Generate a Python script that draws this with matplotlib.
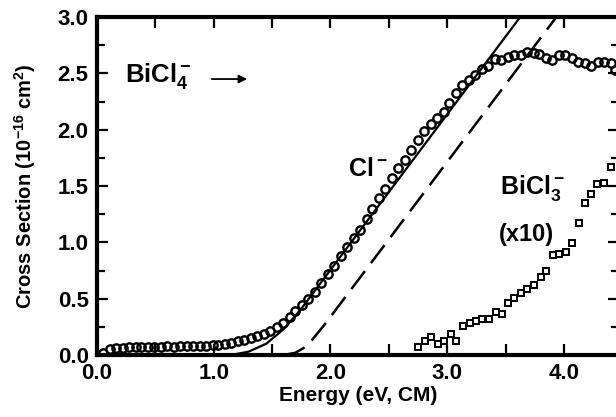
import matplotlib.pyplot as plt
from matplotlib.ticker import MultipleLocator

plt.rcParams['font.family'] = ['Liberation Sans', 'DejaVu Sans']
plt.rcParams['font.weight'] = 'bold'
plt.rcParams['mathtext.fontset'] = 'custom'
plt.rcParams['mathtext.rm'] = 'Liberation Sans:bold'
plt.rcParams['mathtext.it'] = 'Liberation Sans:bold'
plt.rcParams['mathtext.bf'] = 'Liberation Sans:bold'

# BiCl4- -> Cl- cross section (open circles)
cl_e = [0.05, 0.11, 0.16, 0.22, 0.27, 0.33, 0.38, 0.44, 0.49, 0.55, 0.60, 0.66,
        0.71, 0.77, 0.82, 0.88, 0.93, 0.99, 1.04, 1.10, 1.15, 1.21, 1.26, 1.32,
        1.37, 1.43, 1.48, 1.54, 1.59, 1.65, 1.70, 1.76, 1.81, 1.87, 1.92, 1.98,
        2.03, 2.09, 2.14, 2.20, 2.25, 2.31, 2.36, 2.42, 2.47, 2.53, 2.58, 2.64,
        2.69, 2.75, 2.80, 2.86, 2.91, 2.97, 3.02, 3.08, 3.13, 3.19, 3.24, 3.30,
        3.35, 3.41, 3.46, 3.52, 3.57, 3.63, 3.68, 3.74, 3.79, 3.85, 3.90, 3.96,
        4.01, 4.07, 4.12, 4.18, 4.23, 4.29, 4.34, 4.40, 4.44]
cl_s = [0.02, 0.05, 0.06, 0.06, 0.07, 0.07, 0.07, 0.07, 0.07, 0.07, 0.08, 0.07,
        0.08, 0.08, 0.08, 0.08, 0.08, 0.09, 0.09, 0.10, 0.11, 0.12, 0.13, 0.15,
        0.17, 0.19, 0.21, 0.25, 0.28, 0.34, 0.39, 0.44, 0.50, 0.56, 0.64, 0.72,
        0.79, 0.88, 0.96, 1.04, 1.11, 1.21, 1.30, 1.39, 1.47, 1.57, 1.66, 1.73,
        1.82, 1.91, 1.99, 2.05, 2.10, 2.16, 2.24, 2.33, 2.40, 2.44, 2.49, 2.54,
        2.57, 2.63, 2.62, 2.65, 2.66, 2.66, 2.69, 2.68, 2.67, 2.64, 2.62, 2.66,
        2.66, 2.64, 2.60, 2.59, 2.57, 2.60, 2.60, 2.59, 2.53]

# BiCl3- cross section x10 (open squares)
bi_e = [2.75, 2.81, 2.86, 2.92, 2.97, 3.03, 3.08, 3.14, 3.20, 3.25, 3.30, 3.36,
        3.42, 3.47, 3.52, 3.57, 3.63, 3.68, 3.74, 3.80, 3.85, 3.91, 3.96, 4.02,
        4.07, 4.13, 4.18, 4.23, 4.28, 4.34, 4.40]
bi_s = [0.07, 0.12, 0.16, 0.10, 0.12, 0.19, 0.12, 0.26, 0.28, 0.30, 0.32, 0.32,
        0.38, 0.36, 0.46, 0.51, 0.55, 0.59, 0.62, 0.69, 0.75, 0.89, 0.90, 0.91,
        0.99, 1.17, 1.35, 1.43, 1.52, 1.53, 1.67]

# model curves
solid_e = [1.15, 1.30, 1.45, 1.60, 1.75, 3.64]
solid_s = [0.0, 0.03, 0.10, 0.23, 0.41, 3.02]
dash_e = [1.60, 1.70, 1.80, 1.95, 3.95]
dash_s = [0.0, 0.02, 0.08, 0.27, 3.02]

fig = plt.figure(figsize=(6.16, 4.17), dpi=100)
ax = fig.add_axes([0.1575, 0.1487, 0.8469, 0.8103])

ax.plot(solid_e, solid_s, color='black', lw=1.6)
ax.plot(dash_e, dash_s, color='black', lw=1.8, linestyle=(0, (9, 4)))
ax.plot(cl_e, cl_s, 'o', ms=6, mfc='none', mec='black', mew=1.7)
ax.plot(bi_e, bi_s, 's', ms=4.6, mfc='white', mec='black', mew=1.4)

ax.set_xlim(0, 4.47)
ax.set_ylim(0, 3.0)
ax.xaxis.set_major_locator(MultipleLocator(1.0))
ax.xaxis.set_minor_locator(MultipleLocator(0.5))
ax.yaxis.set_major_locator(MultipleLocator(0.5))
ax.yaxis.set_minor_locator(MultipleLocator(0.25))
ax.xaxis.set_major_formatter(lambda v, p: f'{v:.1f}')
ax.yaxis.set_major_formatter(lambda v, p: f'{v:.1f}')
ax.tick_params(which='both', direction='in', top=True, right=True, width=1.6)
ax.tick_params(which='major', length=8, labelsize=16)
ax.tick_params(axis='x', which='minor', length=8)
ax.tick_params(axis='y', which='minor', length=6)
ax.tick_params(axis='x', pad=6)
ax.tick_params(axis='y', pad=6)
for s in ax.spines.values():
    s.set_linewidth(3)

ax.set_xlabel('Energy (eV, CM)', fontsize=15, fontweight='bold', labelpad=1)
ax.set_ylabel('Cross Section (10$^{-16}$ cm$^2$)', fontsize=14.5,
              fontweight='bold', labelpad=14)

ax.text(0.24, 2.48, 'BiCl$_4^-$', fontsize=18.5, fontweight='bold', va='center')
ax.annotate('', xy=(1.31, 2.45), xytext=(0.96, 2.45),
            arrowprops=dict(arrowstyle='-|>', color='black', lw=1.3,
                            mutation_scale=12))
ax.text(2.15, 1.65, 'Cl$^-$', fontsize=18, fontweight='bold', va='center')
ax.text(3.45, 1.48, 'BiCl$_3^-$', fontsize=18, fontweight='bold', va='center')
ax.text(3.44, 1.07, '(x10)', fontsize=17, fontweight='bold', va='center')

fig.savefig('out.png', dpi=100)
